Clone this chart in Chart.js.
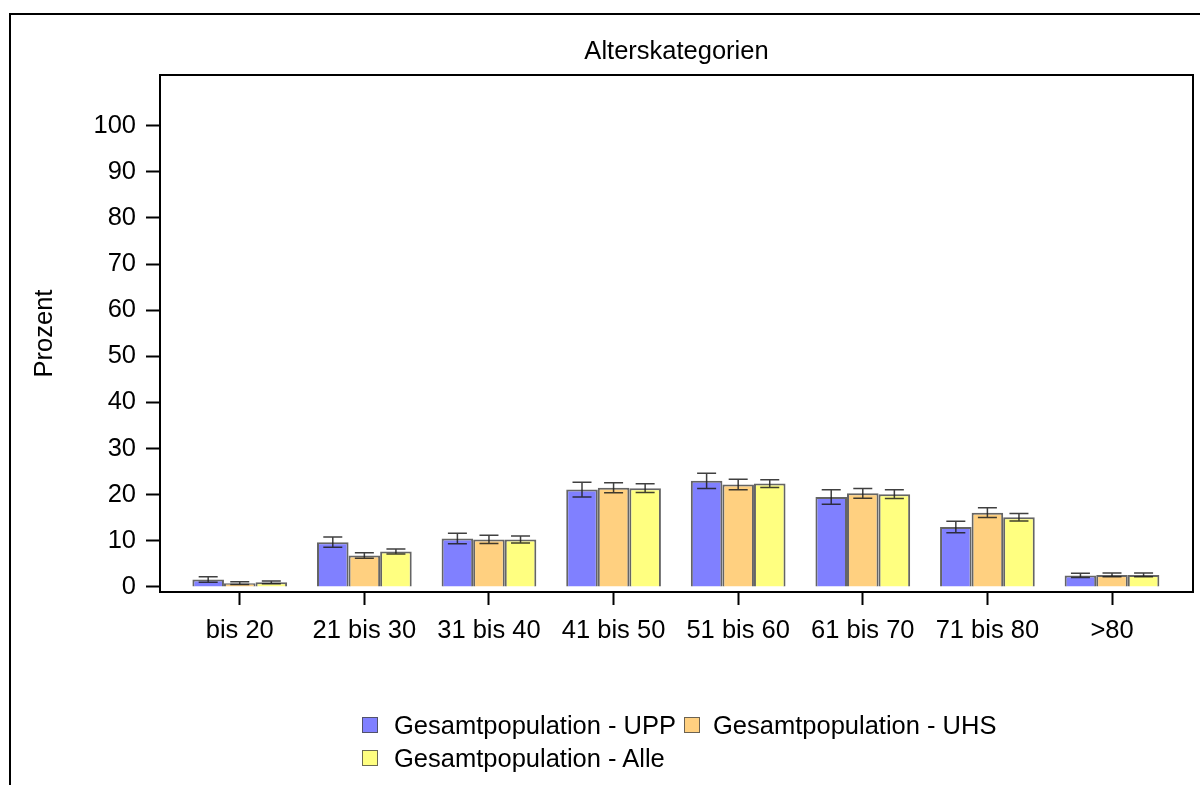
<!DOCTYPE html>
<html>
<head>
<meta charset="utf-8">
<script src="https://cdn.jsdelivr.net/npm/chart.js@4/dist/chart.umd.min.js"></script>
<style>
    body { margin: 0; background: #fff; }
    #wrap { position: relative; width: 1200px; height: 785px; }
    .item { position: absolute; height: 30px; display: flex; align-items: center; white-space: nowrap;
            font: 25.5px "Liberation Sans", Arial, sans-serif; color: #000; }
    .box { width: 14px; height: 14px; border: 1px solid rgba(70,70,70,0.8); }
</style>
</head>
<body>
<div id="wrap">
    <canvas id="ageChart" width="1200" height="785"></canvas>
</div>
<script>
const categories = ["bis 20", "21 bis 30", "31 bis 40", "41 bis 50", "51 bis 60", "61 bis 70", "71 bis 80", ">80"];
const seriesNames = ["Gesamtpopulation - UPP", "Gesamtpopulation - UHS", "Gesamtpopulation - Alle"];

const uppValues = [1.6, 9.7, 10.5, 21.1, 23.0, 19.5, 13.0, 2.5];
const uppErrors = [0.6, 1.1, 1.15, 1.6, 1.65, 1.55, 1.25, 0.45];
const uhsValues = [0.8, 6.8, 10.3, 21.5, 22.2, 20.3, 16.1, 2.6];
const uhsErrors = [0.3, 0.6, 0.9, 1.1, 1.15, 1.05, 1.05, 0.4];
const alleValues = [1.0, 7.7, 10.3, 21.4, 22.4, 20.1, 15.1, 2.6];
const alleErrors = [0.3, 0.55, 0.75, 0.95, 0.85, 0.95, 0.8, 0.4];

const yTicks = [0, 10, 20, 30, 40, 50, 60, 70, 80, 90, 100];

const fillColors = ["#8080ff", "#ffd080", "#ffff80"];
const FONT = '"Liberation Sans", Arial, sans-serif';

Chart.defaults.font.family = FONT;
Chart.defaults.font.size = 25.5;
Chart.defaults.color = "#000";

function toPoints(values) {
    return values.map((v, i) => ({ x: i, y: v }));
}

// frame, title and the top/right edges of the plot box
const framePlugin = {
    id: "frame",
    beforeDraw(chart) {
        const c = chart.ctx;
        c.save();
        c.fillStyle = "#fff";
        c.fillRect(0, 0, chart.width, chart.height);
        c.strokeStyle = "#000";
        c.lineWidth = 2;
        c.beginPath();
        c.moveTo(10, 800);
        c.lineTo(10, 14);
        c.lineTo(1210, 14);
        c.stroke();
        c.restore();
    },
    afterDraw(chart) {
        const a = chart.chartArea;
        const c = chart.ctx;
        c.save();
        c.strokeStyle = "#000";
        c.lineWidth = 2;
        c.beginPath();
        c.moveTo(a.left, a.top);
        c.lineTo(a.right, a.top);
        c.lineTo(a.right, a.bottom);
        c.stroke();
        c.fillStyle = "#000";
        c.font = "25.5px " + FONT;
        c.textAlign = "center";
        c.textBaseline = "middle";
        c.fillText("Alterskategorien", (a.left + a.right) / 2, 52);
        c.restore();
    }
};

const errorBars = {
    id: "errorBars",
    afterDatasetsDraw(chart) {
        const c = chart.ctx;
        const y = chart.scales.y;
        c.save();
        c.strokeStyle = "rgba(30,30,30,0.85)";
        c.lineWidth = 1.5;
        chart.data.datasets.forEach((ds, di) => {
            chart.getDatasetMeta(di).data.forEach((bar, i) => {
                const v = ds.data[i].y;
                const e = ds.errors[i];
                const top = y.getPixelForValue(v + e);
                const bot = y.getPixelForValue(v - e);
                c.beginPath();
                c.moveTo(bar.x, top); c.lineTo(bar.x, bot);
                c.moveTo(bar.x - 9.5, top); c.lineTo(bar.x + 9.5, top);
                c.moveTo(bar.x - 9.5, bot); c.lineTo(bar.x + 9.5, bot);
                c.stroke();
            });
        });
        c.restore();
    }
};

const allValues = [uppValues, uhsValues, alleValues];
const allErrors = [uppErrors, uhsErrors, alleErrors];

const ctx = document.getElementById("ageChart").getContext("2d");
const ageChart = new Chart(ctx, {
    type: "bar",
    data: {
        datasets: seriesNames.map((name, k) => ({
            label: name,
            data: toPoints(allValues[k]),
            errors: allErrors[k],
            backgroundColor: fillColors[k],
            borderColor: "rgba(50,50,50,0.75)",
            borderWidth: 2,
            categoryPercentage: 0.76,
            barPercentage: 1
        }))
    },
    options: {
        responsive: false,
        animation: false,
        layout: { padding: { left: 0, top: 75, right: 7, bottom: 0 } },
        plugins: {
            legend: { display: false },
            tooltip: { enabled: false }
        },
        scales: {
            x: {
                type: "linear",
                min: -0.64,
                max: 7.65,
                offset: false,
                afterBuildTicks: s => { s.ticks = categories.map((c, i) => ({ value: i })); },
                afterFit: s => { s.height = 193; },
                ticks: {
                    autoSkip: false,
                    maxRotation: 0,
                    padding: 11,
                    callback: v => categories[v]
                },
                grid: { offset: false, drawOnChartArea: false, drawTicks: true, tickLength: 13, tickColor: "#000", tickWidth: 2 },
                border: { display: true, color: "#000", width: 2 }
            },
            y: {
                min: -1.1,
                max: 111,
                afterBuildTicks: s => { s.ticks = yTicks.map(v => ({ value: v })); },
                afterFit: s => { s.width = 160; },
                ticks: { padding: 10 },
                grid: { drawOnChartArea: false, drawTicks: true, tickLength: 14, tickColor: "#000", tickWidth: 2 },
                border: { display: true, color: "#000", width: 2 },
                title: { display: true, text: "Prozent", padding: { top: 29.5, bottom: 0 } }
            }
        }
    },
    plugins: [framePlugin, errorBars]
});

// legend: two items on the first row, one on the second, left aligned
const legendSpots = [[362, 710], [684, 710], [362, 743]];
const wrap = document.getElementById("wrap");
seriesNames.forEach((name, k) => {
    const item = document.createElement("div");
    item.className = "item";
    item.style.left = legendSpots[k][0] + "px";
    item.style.top = legendSpots[k][1] + "px";
    const box = document.createElement("div");
    box.className = "box";
    box.style.background = fillColors[k];
    box.style.marginRight = (k === 1 ? 13 : 16) + "px";
    const txt = document.createElement("span");
    txt.textContent = name;
    item.appendChild(box);
    item.appendChild(txt);
    wrap.appendChild(item);
});
</script>
</body>
</html>
